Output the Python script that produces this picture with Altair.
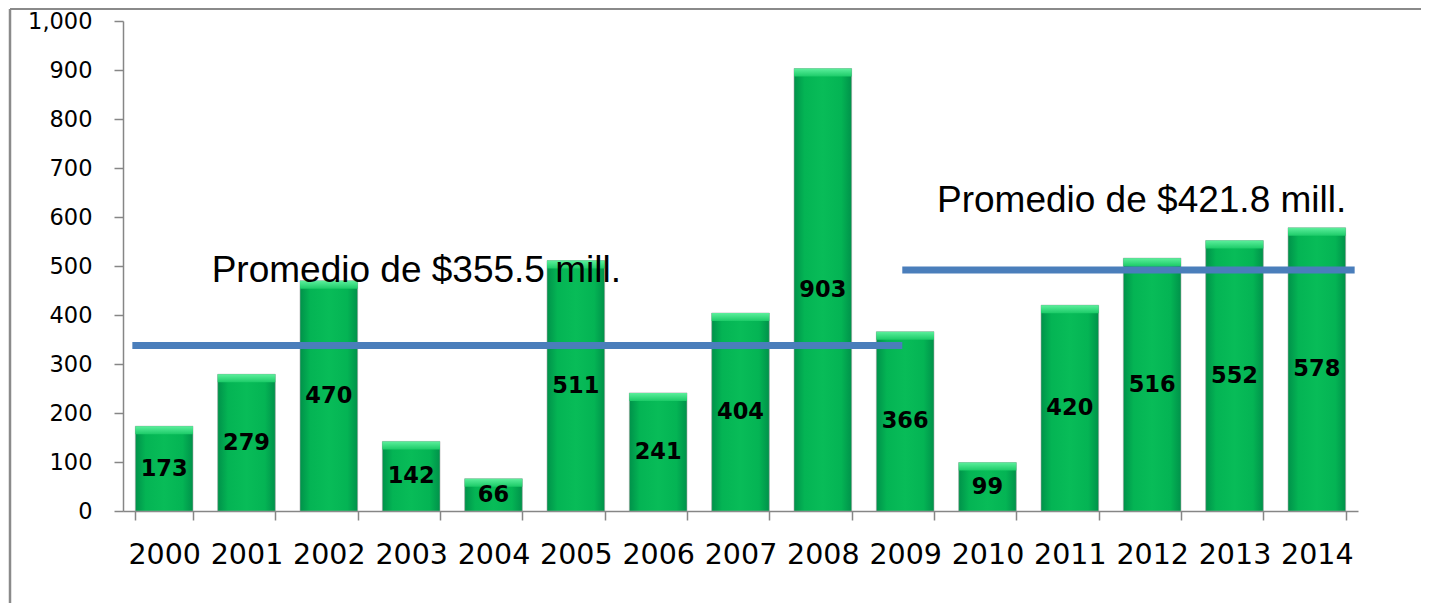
import altair as alt
import pandas as pd

# ---- data ----
years = [str(y) for y in range(2000, 2015)]
values = [173, 279, 470, 142, 66, 511, 241, 404, 903, 366, 99, 420, 516, 552, 578]

# drawn average lines (level as drawn in the picture)
line1_years = ["2000", "2009"]
line1_level = 338
line2_years = ["2009", "2014"]
line2_level = 492

note1_text = "Promedio de $355.5 mill."
note1_year = "2001"
note1_level = 467
note2_text = "Promedio de $421.8 mill."
note2_year = "2009"
note2_level = 610

y_ticks = list(range(0, 1001, 100))

W, H = 1235, 490

df = pd.DataFrame({"year": years, "value": values})

xscale = alt.Scale(domain=years, paddingInner=0.3, paddingOuter=0.15)
yscale = alt.Scale(domain=[0, 1000], nice=False)

xaxis = alt.Axis(
    title=None, labelAngle=0, tickBand="extent", tickSize=9,
    labelFontSize=28.5, labelFont="DejaVu Sans", labelColor="#000000",
    labelPadding=20, domainColor="#868686", tickColor="#868686",
    domainWidth=1.5, tickWidth=1.5,
)
yaxis = alt.Axis(
    title=None, values=y_ticks, format=",.0f", tickSize=9, grid=False,
    labelFontSize=22.5, labelFont="DejaVu Sans", labelColor="#000000",
    labelPadding=22, domainColor="#868686", tickColor="#868686",
    domainWidth=1.5, tickWidth=1.5,
)

bar_grad = alt.Gradient(
    gradient="linear",
    stops=[
        alt.GradientStop(color="#00924a", offset=0),
        alt.GradientStop(color="#04b454", offset=0.18),
        alt.GradientStop(color="#08bc58", offset=0.5),
        alt.GradientStop(color="#04b454", offset=0.82),
        alt.GradientStop(color="#00924a", offset=1),
    ],
    x1=0, x2=1, y1=0, y2=0,
)
cap_grad = alt.Gradient(
    gradient="linear",
    stops=[
        alt.GradientStop(color="#5cef9c", offset=0),
        alt.GradientStop(color="#1ccb68", offset=1),
    ],
    x1=0, x2=0, y1=0, y2=1,
)

base = alt.Chart(df)

bars = base.mark_bar(color=bar_grad, stroke="#a0a0a0", strokeWidth=0.8, strokeOpacity=0.7).encode(
    x=alt.X("year:O", scale=xscale, axis=xaxis),
    y=alt.Y("value:Q", scale=yscale, axis=yaxis),
)

caps = base.mark_bar(color=cap_grad, y2Offset=8).encode(
    x=alt.X("year:O", scale=xscale),
    y=alt.Y("value:Q", scale=yscale),
    y2="value:Q",
)

labels = base.transform_calculate(mid="datum.value / 2").mark_text(
    font="DejaVu Sans", fontWeight="bold", fontSize=22.5, color="#000000", baseline="middle"
).encode(
    x=alt.X("year:O", scale=xscale),
    y=alt.Y("mid:Q", scale=yscale),
    text=alt.Text("value:Q"),
)

l1 = alt.Chart(pd.DataFrame({"s": [line1_years[0]], "e": [line1_years[1]], "v": [line1_level]})).mark_rule(
    color="#4a7ebb", strokeWidth=7, xOffset=-3
).encode(
    x=alt.X("s:O", scale=xscale, bandPosition=0),
    x2=alt.X2("e:O", bandPosition=0.45),
    y=alt.Y("v:Q", scale=yscale),
)
l2 = alt.Chart(pd.DataFrame({"s": [line2_years[0]], "e": [line2_years[1]], "v": [line2_level]})).mark_rule(
    color="#4a7ebb", strokeWidth=7, x2Offset=9
).encode(
    x=alt.X("s:O", scale=xscale, bandPosition=0.45),
    x2=alt.X2("e:O", bandPosition=1),
    y=alt.Y("v:Q", scale=yscale),
)

n1 = alt.Chart(pd.DataFrame({"yr": [note1_year], "v": [note1_level], "t": [note1_text]})).mark_text(
    font="Liberation Sans", fontSize=37, align="left", baseline="alphabetic", color="#000000", dx=-6
).encode(
    x=alt.X("yr:O", scale=xscale, bandPosition=0),
    y=alt.Y("v:Q", scale=yscale),
    text="t:N",
)
n2 = alt.Chart(pd.DataFrame({"yr": [note2_year], "v": [note2_level], "t": [note2_text]})).mark_text(
    font="Liberation Sans", fontSize=37, align="left", baseline="alphabetic", color="#000000", dx=3
).encode(
    x=alt.X("yr:O", scale=xscale, bandPosition=1),
    y=alt.Y("v:Q", scale=yscale),
    text="t:N",
)

# outer frame of the chart area (left and top edges)
one = pd.DataFrame({"k": [0]})
frame_left = alt.Chart(one).mark_rule(color="#8a8a8a", strokeWidth=2.5).encode(
    x=alt.value(-113), y=alt.value(-12), y2=alt.value(600)
)
frame_top = alt.Chart(one).mark_rule(color="#8a8a8a", strokeWidth=2).encode(
    x=alt.value(-113), x2=alt.value(W + 70), y=alt.value(-12)
)

chart = alt.layer(
    frame_left, frame_top, bars, caps, l1, l2, labels, n1, n2
).properties(
    width=W, height=H,
    autosize=alt.AutoSizeParams(type="none"),
    padding={"left": 115, "top": 13, "right": 63, "bottom": 92},
).configure_view(strokeWidth=0)

chart.save("out.html", embed_options={"renderer": "svg", "actions": False})
